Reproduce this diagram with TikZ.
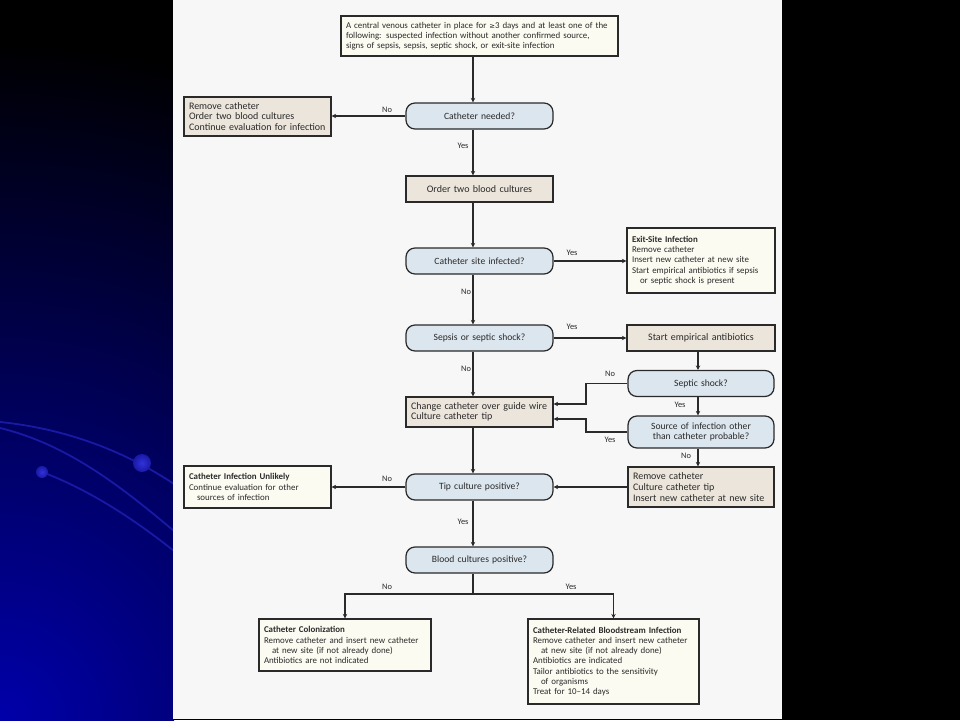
\documentclass[tikz,border=0pt]{standalone}
\usepackage{fontspec}
\setmainfont{Carlito}
\newfontfamily\symf{DejaVu Sans}
\usetikzlibrary{arrows.meta,calc}
\definecolor{cream}{HTML}{FCFBF1}
\definecolor{beige}{HTML}{ECE5DB}
\definecolor{qblue}{HTML}{DCE6EE}
\definecolor{ink}{HTML}{2A2A2A}
\definecolor{panel}{HTML}{F7F7F7}
\definecolor{deco}{RGB}{25,25,165}
\definecolor{decoglow}{RGB}{0,0,170}
\tikzset{
  box/.style={draw=ink, line width=1.25pt, inner xsep=5pt, inner ysep=0pt, align=left, anchor=center, text=ink},
  creambox/.style={box, fill=cream, font=\fontsize{8.9}{10.2}\selectfont},
  beigebox/.style={box, fill=beige, font=\fontsize{10}{10.6}\selectfont},
  qbox/.style={box, fill=qblue, rounded corners=9pt, align=center, font=\fontsize{9.6}{10.4}\selectfont},
  lbl/.style={font=\fontsize{8.4}{10}\selectfont, inner sep=0pt, text=ink},
  arr/.style={draw=ink, line width=1.25pt, -{Stealth[length=4.5pt,width=4.5pt]}},
  conn/.style={draw=ink, line width=1.25pt},
  decoline/.style={draw=deco, line width=1.8pt},
}
\begin{document}
\begin{tikzpicture}[x=1pt,y=-1pt]
\useasboundingbox (0,0) rectangle (960,720);
% background
\fill[black] (0,0) rectangle (960,720);
\begin{scope}
  \clip (0,0) rectangle (174,720);
  \shade[inner color=decoglow, outer color=black] (0,720) circle[radius=680pt];
  \draw[decoline] (0,422) .. controls (60,428) and (120,448) .. (174,484);
  \draw[decoline] (0,428) .. controls (70,445) and (125,490) .. (174,531);
  \draw[decoline] (42,472) .. controls (90,490) and (135,520) .. (174,551);
  \shade[inner color={rgb,255:red,50;green,50;blue,220}, outer color=deco] (142,463) circle[radius=9pt];
  \shade[inner color={rgb,255:red,50;green,50;blue,220}, outer color=deco] (42,472) circle[radius=6pt];
\end{scope}
\fill[panel] (173,0) rectangle (782,719);

% nodes
\node[creambox, text width=267pt, minimum height=40pt] (top) at (479.5,36)
  {A central venous catheter in place for {\symf\fontsize{6.8}{10}\selectfont ≥}3 days and at least one of the\\following: suspected infection without another confirmed source,\\signs of sepsis, sepsis, septic shock, or exit-site infection};
\node[beigebox, text width=137pt, minimum height=39pt] (rm1) at (257.5,116.5)
  {Remove catheter\\Order two blood cultures\\Continue evaluation for infection};
\node[qbox, text width=137pt, minimum height=26pt] (need) at (479.5,116) {Catheter needed?};
\node[beigebox, align=center, text width=137pt, minimum height=26pt] (order) at (479.5,189) {Order two blood cultures};
\node[qbox, text width=137pt, minimum height=26pt] (site) at (479.5,261) {Catheter site infected?};
\node[creambox, text width=138pt, minimum height=65pt] (exit) at (701,260.5)
  {\textbf{Exit-Site Infection}\\Remove catheter\\Insert new catheter at new site\\Start empirical antibiotics if sepsis\\\hspace*{8pt}or septic shock is present};
\node[qbox, text width=137pt, minimum height=26pt] (sepsis) at (479.5,338) {Sepsis or septic shock?};
\node[beigebox, align=center, text width=138pt, minimum height=26pt] (start) at (701,338) {Start empirical antibiotics};
\node[qbox, text width=136pt, minimum height=26pt] (shock) at (701,383.5) {Septic shock?};
\node[qbox, text width=136pt, minimum height=32pt] (source) at (701,432) {Source of infection other\\than catheter probable?};
\node[beigebox, text width=137pt, minimum height=30pt] (change) at (479.5,412) {Change catheter over guide wire\\Culture catheter tip};
\node[beigebox, text width=136pt, minimum height=40pt] (rm2) at (701,487) {Remove catheter\\Culture catheter tip\\Insert new catheter at new site};
\node[qbox, text width=137pt, minimum height=26pt] (tip) at (479.5,487) {Tip culture positive?};
\node[creambox, text width=137pt, minimum height=42pt] (unlikely) at (257.5,487)
  {\textbf{Catheter Infection Unlikely}\\Continue evaluation for other\\\hspace*{8pt}sources of infection};
\node[qbox, text width=137pt, minimum height=26pt] (blood) at (479.5,560) {Blood cultures positive?};
\node[creambox, text width=162pt, minimum height=52pt] (colon) at (345,645)
  {\textbf{Catheter Colonization}\\Remove catheter and insert new catheter\\\hspace*{8pt}at new site (if not already done)\\Antibiotics are not indicated};
\node[creambox, text width=161pt, minimum height=85pt] (crbsi) at (613.5,661.5)
  {\textbf{Catheter-Related Bloodstream Infection}\\Remove catheter and insert new catheter\\\hspace*{8pt}at new site (if not already done)\\Antibiotics are indicated\\Tailor antibiotics to the sensitivity\\\hspace*{8pt}of organisms\\Treat for 10--14 days};

% helper coordinates
\coordinate (mx) at (473,0);
\coordinate (rx) at (698,0);
\coordinate (j1) at (586,404);
\coordinate (j2) at (586,419);
\coordinate (br) at (473,594);

% connectors
\draw[arr] (top.south -| mx) -- (need.north -| mx);
\draw[arr] (need.west) -- (need.west -| rm1.east);
\draw[arr] (need.south -| mx) -- (order.north -| mx);
\draw[arr] (order.south -| mx) -- (site.north -| mx);
\draw[arr] (site.east) -- (site.east -| exit.west);
\draw[arr] (site.south -| mx) -- (sepsis.north -| mx);
\draw[arr] (sepsis.east) -- (start.west);
\draw[arr] (sepsis.south -| mx) -- (change.north -| mx);
\draw[arr] (start.south -| rx) -- (shock.north -| rx);
\draw[arr] (shock.west) -| (j1) -- (j1 -| change.east);
\draw[arr] (shock.south -| rx) -- (source.north -| rx);
\draw[arr] (source.west) -| (j2) -- (j2 -| change.east);
\draw[arr] (source.south -| rx) -- (rm2.north -| rx);
\draw[arr] (change.south -| mx) -- (tip.north -| mx);
\draw[arr] (rm2.west) -- (tip.east);
\draw[arr] (tip.west) -- (unlikely.east);
\draw[arr] (tip.south -| mx) -- (blood.north -| mx);
\draw[conn] (blood.south -| mx) -- (br);
\draw[arr] (br) -| (colon.north);
\draw[arr] (br) -| (crbsi.north);

% labels
\node[lbl] (l1) at (387,110) {No};
\node[lbl] (l2) at (463,146) {Yes};
\node[lbl] (l3) at (572,253) {Yes};
\node[lbl] (l4) at (466,292) {No};
\node[lbl] (l5) at (572,327) {Yes};
\node[lbl] (l6) at (466,369) {No};
\node[lbl] (l7) at (610,374) {No};
\node[lbl] (l8) at (680,405) {Yes};
\node[lbl] (l9) at (610,440) {Yes};
\node[lbl] (l10) at (686,456) {No};
\node[lbl] (l11) at (387,479) {No};
\node[lbl] (l12) at (463,522) {Yes};
\node[lbl] (l13) at (387,587) {No};
\node[lbl] (l14) at (571,587) {Yes};
\end{tikzpicture}
\end{document}
